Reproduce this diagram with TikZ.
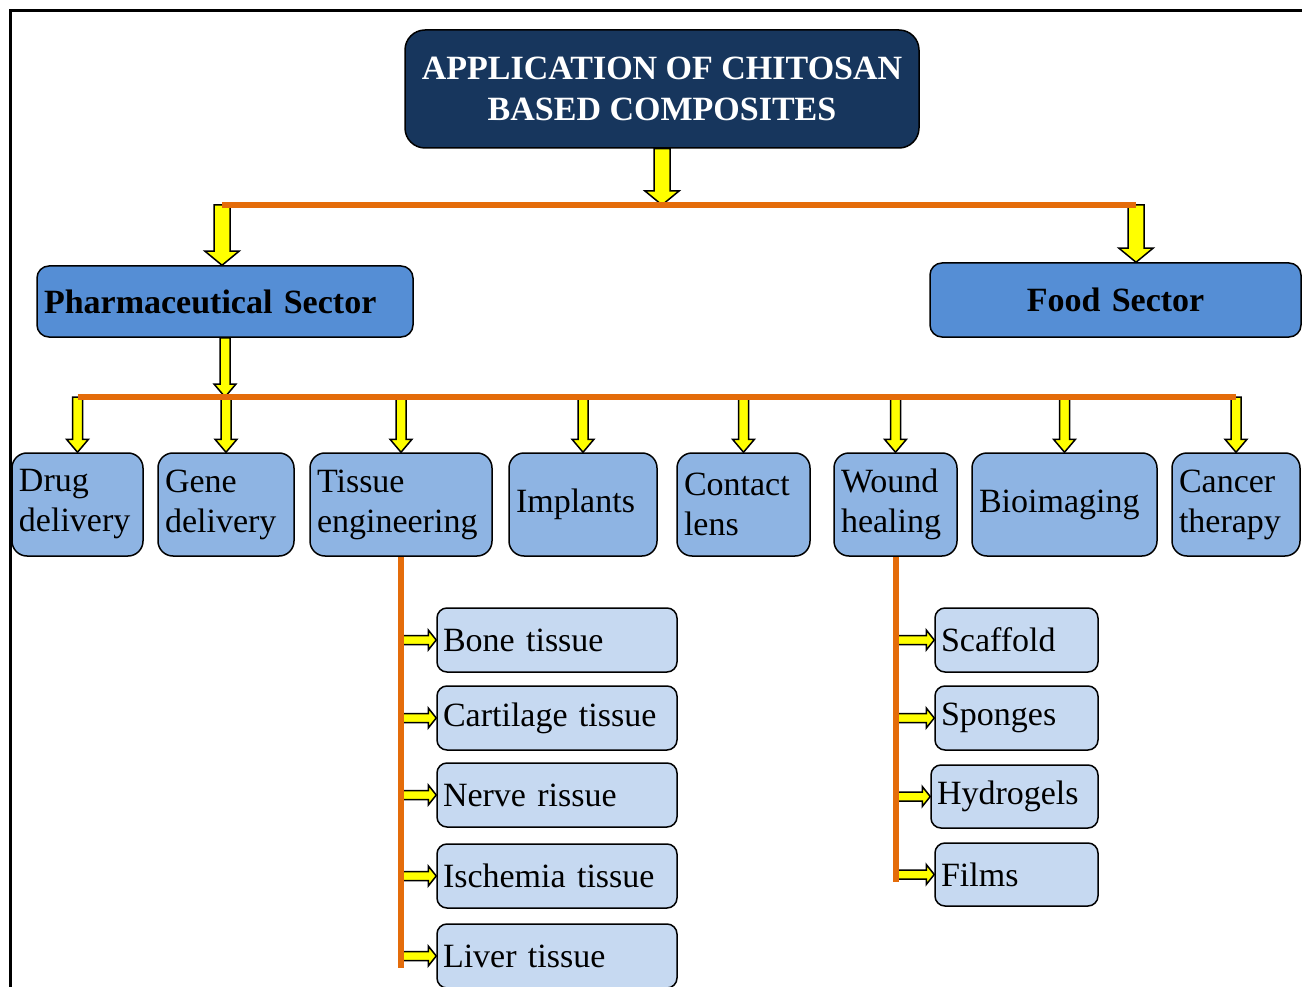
\documentclass[tikz,border=0pt]{standalone}
\usepackage{fontspec}
\setmainfont{Liberation Serif}
\usepackage{xcolor}
\usepackage{tikz}
\usetikzlibrary{positioning, calc}
\definecolor{ccNavy}{RGB}{23, 54, 93}
\definecolor{ccSector}{RGB}{85, 142, 213}
\definecolor{ccApp}{RGB}{142, 180, 227}
\definecolor{ccSub}{RGB}{198, 217, 241}
\definecolor{ccOrange}{RGB}{228, 108, 10}
\definecolor{ccYellow}{RGB}{255, 255, 0}
\tikzset{
    base/.style={
        font=\fontsize{34}{40}\selectfont,
        rectangle,
        draw=black,
        line width=1.5pt
    },
    root/.style={
        base,
        font=\fontsize{34}{41}\selectfont\bfseries,
        fill=ccNavy,
        text=white,
        align=center,
        rounded corners=20pt,
        minimum width=514pt,
        minimum height=118pt
    },
    sector/.style={
        base,
        font=\fontsize{34}{40}\selectfont\bfseries,
        fill=ccSector,
        rounded corners=12pt,
        inner xsep=7pt
    },
    app/.style={
        base,
        fill=ccApp,
        align=left,
        rounded corners=15pt,
        inner xsep=7pt,
        minimum height=103pt
    },
    sub/.style={
        base,
        fill=ccSub,
        align=left,
        rounded corners=10pt,
        inner xsep=6pt,
        minimum height=64pt
    },
    frame/.style={
        line width=3pt,
        color=black
    },
    flow/.style={
        line width=6pt,
        color=ccOrange
    },
    yarrow/.style={
        draw=black,
        fill=ccYellow,
        line width=1.5pt,
        line join=miter
    },
    blockdown/.style n args={3}{
        yarrow,
        to path={let \p1=(\tikztostart), \p2=(\tikztotarget) in
            (\x1-#1,\y1) -- (\x1-#1,\y2+#3) -- (\x1-#2,\y2+#3) -- (\x1,\y2)
            -- (\x1+#2,\y2+#3) -- (\x1+#1,\y2+#3) -- (\x1+#1,\y1) -- cycle}
    },
    blockright/.style n args={3}{
        yarrow,
        to path={let \p1=(\tikztostart), \p2=(\tikztotarget) in
            (\x1,\y1-#1) -- (\x2-#3,\y1-#1) -- (\x2-#3,\y1-#2) -- (\x2,\y1)
            -- (\x2-#3,\y1+#2) -- (\x2-#3,\y1+#1) -- (\x1,\y1+#1) -- cycle}
    },
    bigdown/.style={blockdown={8pt}{17pt}{14pt}},
    smalldown/.style={blockdown={5pt}{11pt}{13pt}},
    sidearrow/.style={blockright={4.5pt}{10pt}{8pt}}
}

\begin{document}
\begin{tikzpicture}[x=1pt, y=-1pt]
  \useasboundingbox (0,0) rectangle (1302,987);
  \draw[frame] (10,1000) -- (10,11) -- (1320,11);

  % Root
  \node[root] (root) at (662,89) {APPLICATION OF CHITOSAN\\BASED COMPOSITES};

  % Sectors
  \node[sector, minimum width=376pt, minimum height=71pt, text width=362pt, align=left] (pharma) at (225,301.5) {Pharmaceutical Sector};
  \node[sector, minimum width=371pt, minimum height=74pt, text width=357pt, align=center] (food) at (1115.5,300) {Food Sector};
  \coordinate (busA1) at (222,205);
  \coordinate (busA2) at (1136,205);

  % Applications
  \node[app, text width=117pt] (drug) at (77.5,504.5) {Drug\\delivery};
  \node[app, text width=122pt] (gene) at (226,504.5) {Gene\\delivery};
  \node[app, text width=168pt] (tissue) at (401,504.5) {Tissue\\engineering};
  \node[app, text width=134pt] (implants) at (583,504.5) {Implants};
  \node[app, text width=119pt] (contact) at (743.5,504.5) {Contact\\lens};
  \node[app, text width=109pt] (wound) at (895.5,504.5) {Wound\\healing};
  \node[app, text width=171pt] (bio) at (1064.5,504.5) {Bioimaging};
  \node[app, text width=114pt] (cancer) at (1236,504.5) {Cancer\\therapy};
  \coordinate (busB1) at (77.5,397);
  \coordinate (busB2) at (1236,397);

  % Tissue engineering
  \node[sub, text width=228pt] (bone) at (557,640) {Bone tissue};
  \node[sub, text width=228pt] (cartilage) at (557,718) {Cartilage tissue};
  \node[sub, text width=228pt] (nerve) at (557,795) {Nerve rissue};
  \node[sub, text width=228pt] (ischemia) at (557,876) {Ischemia tissue};
  \node[sub, text width=228pt] (liver) at (557,956) {Liver tissue};
  \coordinate (tissueEnd) at (401,968);

  % Wound healing
  \node[sub, text width=151pt] (scaffold) at (1016.5,640) {Scaffold};
  \node[sub, text width=151pt] (sponges) at (1016.5,718) {Sponges};
  \node[sub, text width=155pt, minimum height=63pt] (hydrogels) at (1014.5,796.5) {Hydrogels};
  \node[sub, text width=151pt, minimum height=63pt] (films) at (1016.5,874.5) {Films};
  \coordinate (woundEnd) at (895.5,882);

  % Arrows
  \draw[bigdown] (root.south) to (root.south |- busA1);
  \draw[bigdown] (busA1) to (busA1 |- pharma.north);
  \draw[bigdown] (busA2) to (busA2 |- food.north);
  \draw[smalldown] (pharma.south) to (pharma.south |- busB1);

  \draw[smalldown] (drug.north |- busB1) to (drug.north);
  \draw[smalldown] (gene.north |- busB1) to (gene.north);
  \draw[smalldown] (tissue.north |- busB1) to (tissue.north);
  \draw[smalldown] (implants.north |- busB1) to (implants.north);
  \draw[smalldown] (contact.north |- busB1) to (contact.north);
  \draw[smalldown] (wound.north |- busB1) to (wound.north);
  \draw[smalldown] (bio.north |- busB1) to (bio.north);
  \draw[smalldown] (cancer.north |- busB1) to (cancer.north);

  \draw[sidearrow] (tissue.south |- bone.west) to (bone.west);
  \draw[sidearrow] (tissue.south |- cartilage.west) to (cartilage.west);
  \draw[sidearrow] (tissue.south |- nerve.west) to (nerve.west);
  \draw[sidearrow] (tissue.south |- ischemia.west) to (ischemia.west);
  \draw[sidearrow] (tissue.south |- liver.west) to (liver.west);

  \draw[sidearrow] (wound.south |- scaffold.west) to (scaffold.west);
  \draw[sidearrow] (wound.south |- sponges.west) to (sponges.west);
  \draw[sidearrow] (wound.south |- hydrogels.west) to (hydrogels.west);
  \draw[sidearrow] (wound.south |- films.west) to (films.west);

  % Orange lines
  \draw[flow] (busA1) -- (busA2);
  \draw[flow] (busB1) -- (busB2);
  \draw[flow] (tissue.south) -- (tissueEnd);
  \draw[flow] (wound.south) -- (woundEnd);
\end{tikzpicture}
\end{document}
